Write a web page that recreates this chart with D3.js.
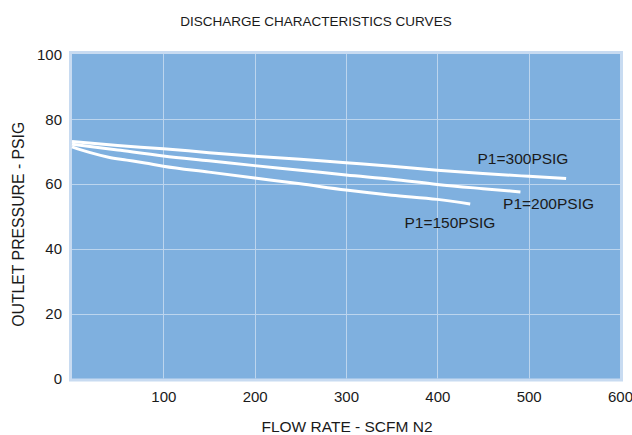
<!DOCTYPE html>
<html>
<head>
<meta charset="utf-8">
<script src="https://cdn.jsdelivr.net/npm/d3@7"></script>
<style>
  html, body { margin: 0; padding: 0; background: #ffffff; }
  svg { display: block; font-family: "Liberation Sans", Arial, Helvetica, sans-serif; }
</style>
</head>
<body>
<svg id="chart" width="632" height="435"></svg>
<script>
// Discharge curves: outlet pressure (PSIG) vs flow rate (SCFM N2) per inlet pressure
const flow300 = [0, 50, 100, 150, 200, 250, 300, 350, 400, 450, 500, 541];
const pres300 = [73.0, 71.8, 70.8, 69.6, 68.5, 67.6, 66.5, 65.4, 64.2, 63.2, 62.3, 61.6];

const flow200 = [0, 50, 100, 150, 200, 250, 300, 350, 400, 450, 491];
const pres200 = [72.2, 70.4, 68.6, 67.1, 65.6, 64.2, 62.7, 61.4, 59.8, 58.5, 57.5];

const flow150 = [0, 20, 40, 60, 80, 100, 150, 200, 250, 300, 350, 400, 436];
const pres150 = [71.4, 69.6, 68.2, 67.3, 66.4, 65.4, 63.6, 61.8, 60.0, 58.1, 56.5, 55.2, 53.8];

const seriesNames = ["P1=300PSIG", "P1=200PSIG", "P1=150PSIG"];
// label anchor in data units (flow, pressure)
const labelFlow = [444, 472, 364];
const labelPres = [67.9, 54.0, 48.2];

const xTicks = [100, 200, 300, 400, 500, 600];
const yTicks = [0, 20, 40, 60, 80, 100];

const title = "DISCHARGE CHARACTERISTICS CURVES";
const xTitle = "FLOW RATE - SCFM N2";
const yTitle = "OUTLET PRESSURE - PSIG";

const series = [
  { name: seriesNames[0], pts: flow300.map((f, i) => [f, pres300[i]]) },
  { name: seriesNames[1], pts: flow200.map((f, i) => [f, pres200[i]]) },
  { name: seriesNames[2], pts: flow150.map((f, i) => [f, pres150[i]]) }
];

const svg = d3.select("#chart");
const plot = { left: 72, right: 620, top: 54, bottom: 378.5 };

const x = d3.scaleLinear().domain([0, 600]).range([plot.left, plot.right]);
const y = d3.scaleLinear().domain([0, 100]).range([plot.bottom, plot.top]);

// title
svg.append("text")
  .attr("x", 316).attr("y", 26)
  .attr("text-anchor", "middle")
  .attr("font-size", 13.5)
  .attr("fill", "#1a1a1a")
  .text(title);

// plot frame and background
svg.append("rect")
  .attr("x", plot.left - 1.5).attr("y", plot.top - 1.5)
  .attr("width", plot.right - plot.left + 3).attr("height", plot.bottom - plot.top + 3)
  .attr("fill", "#7fb0df")
  .attr("stroke", "#c8dbf1")
  .attr("stroke-width", 3);

// grid
const grid = svg.append("g");
grid.selectAll("line.vx").data(xTicks.filter(t => t < 600)).enter().append("line")
  .attr("x1", d => Math.round(x(d)) + 0.5).attr("x2", d => Math.round(x(d)) + 0.5)
  .attr("y1", plot.top).attr("y2", plot.bottom)
  .attr("stroke", "#bcd5ee").attr("stroke-width", 1);
grid.selectAll("line.hy").data(yTicks.filter(t => t > 0 && t < 100)).enter().append("line")
  .attr("y1", d => Math.round(y(d)) + 0.5).attr("y2", d => Math.round(y(d)) + 0.5)
  .attr("x1", plot.left).attr("x2", plot.right)
  .attr("stroke", "#bcd5ee").attr("stroke-width", 1);

// axes (labels only)
const xAxis = d3.axisBottom(x).tickValues(xTicks).tickSize(0).tickPadding(13);
const gx = svg.append("g").attr("transform", `translate(0,${plot.bottom})`).call(xAxis);
gx.select(".domain").remove();
gx.selectAll("text").attr("font-size", 15).attr("fill", "#1a1a1a")
  .attr("font-family", "Liberation Sans, Arial, sans-serif");

const yAxis = d3.axisLeft(y).tickValues(yTicks).tickSize(0).tickPadding(10);
const gy = svg.append("g").attr("transform", `translate(${plot.left},0)`).call(yAxis);
gy.select(".domain").remove();
gy.selectAll("text").attr("font-size", 15).attr("fill", "#1a1a1a")
  .attr("dy", "0.34em")
  .attr("font-family", "Liberation Sans, Arial, sans-serif");

// axis titles
svg.append("text")
  .attr("x", (plot.left + plot.right) / 2 + 1).attr("y", 432)
  .attr("text-anchor", "middle")
  .attr("font-size", 15.5)
  .attr("fill", "#1a1a1a")
  .text(xTitle);

svg.append("text")
  .attr("transform", `translate(24,${(plot.top + plot.bottom) / 2 + 8}) rotate(-90)`)
  .attr("text-anchor", "middle")
  .attr("font-size", 15.8)
  .attr("fill", "#1a1a1a")
  .text(yTitle);

// curves
const line = d3.line().x(d => x(d[0])).y(d => y(d[1])).curve(d3.curveMonotoneX);
svg.append("g").selectAll("path").data(series).enter().append("path")
  .attr("d", d => line(d.pts))
  .attr("fill", "none")
  .attr("stroke", "#ffffff")
  .attr("stroke-width", 3)
  .attr("stroke-linecap", "butt");

// curve labels
svg.append("g").selectAll("text").data(series).enter().append("text")
  .attr("x", (d, i) => x(labelFlow[i]))
  .attr("y", (d, i) => y(labelPres[i]))
  .attr("dy", "0.36em")
  .attr("font-size", 15.5)
  .attr("fill", "#1a1a1a")
  .text(d => d.name);
</script>
</body>
</html>
